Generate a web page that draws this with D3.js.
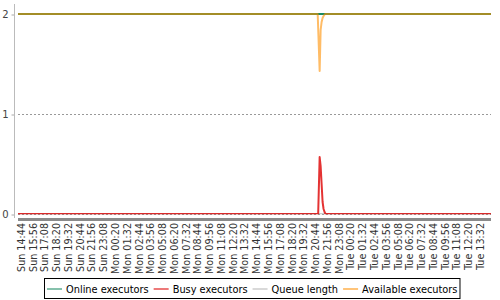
<!DOCTYPE html>
<html>
<head>
<meta charset="utf-8">
<script src="https://cdn.jsdelivr.net/npm/d3@7"></script>
<style>
  body { margin: 0; background: #fff; }
  svg { display: block; font-family: "DejaVu Sans", sans-serif; }
</style>
</head>
<body>
<div id="wrapper"></div>
<script>
// time axis: minutes after Sun 14:44
const tickLabels = [
  "Sun 14:44", "Sun 15:56", "Sun 17:08", "Sun 18:20", "Sun 19:32", "Sun 20:44", "Sun 21:56", "Sun 23:08",
  "Mon 00:20", "Mon 01:32", "Mon 02:44", "Mon 03:56", "Mon 05:08", "Mon 06:20", "Mon 07:32", "Mon 08:44",
  "Mon 09:56", "Mon 11:08", "Mon 12:20", "Mon 13:32", "Mon 14:44", "Mon 15:56", "Mon 17:08", "Mon 18:20",
  "Mon 19:32", "Mon 20:44", "Mon 21:56", "Mon 23:08",
  "Tue 00:20", "Tue 01:32", "Tue 02:44", "Tue 03:56", "Tue 05:08", "Tue 06:20", "Tue 07:32", "Tue 08:44",
  "Tue 09:56", "Tue 11:08", "Tue 12:20", "Tue 13:32"
];
const tickMinutes = tickLabels.map((d, i) => i * 72);

const seriesNames = ["Online executors", "Busy executors", "Queue length", "Available executors"];

// [minute, value]
const onlineExecutors = [[-18, 2], [2875, 2]];
const busyExecutors = [[-18, 0], [1818, 0], [1827, 0.57], [1833, 0.48], [1839, 0.3], [1845, 0.12],
  [1851, 0.05], [1857, 0.02], [1863, 0], [2875, 0]];
const queueLength = [[-18, 0], [2875, 0]];
const availableExecutors = [[-18, 2], [1815, 2], [1827, 1.43], [1833, 1.84], [1839, 1.92], [1845, 1.96],
  [1851, 1.98], [1860, 2], [2875, 2]];

const colors = ["#1a8a62", "#dd0000", "#b8b8b8", "#ff9000"];
const opacities = [1, 0.8, 0.7, 0.6];
// drawing order: queue under busy
const drawOrder = [0, 2, 1, 3];

const dimensions = {
  width: 500,
  height: 300,
  plotLeft: 18,
  plotRight: 491,
  plotTop: 14,
  plotBottom: 214
};

const svg = d3.select("#wrapper")
  .append("svg")
    .attr("width", dimensions.width)
    .attr("height", dimensions.height);

const xScale = d3.scaleLinear()
  .domain([-18, 2875])
  .range([dimensions.plotLeft, dimensions.plotRight]);

const yScale = d3.scaleLinear()
  .domain([0, 2])
  .range([dimensions.plotBottom, dimensions.plotTop]);

svg.append("clipPath").attr("id", "plotClip")
  .append("rect")
    .attr("x", dimensions.plotLeft)
    .attr("y", 0)
    .attr("width", dimensions.plotRight - dimensions.plotLeft)
    .attr("height", dimensions.plotBottom + 0.3);

// gridlines
svg.append("g")
  .selectAll("line")
  .data([0, 1, 2])
  .join("line")
    .attr("x1", dimensions.plotLeft)
    .attr("x2", dimensions.plotRight)
    .attr("y1", d => yScale(d) + 0.5)
    .attr("y2", d => yScale(d) + 0.5)
    .attr("stroke", "#999")
    .attr("stroke-width", 1)
    .attr("stroke-dasharray", "2,2");

// y axis
const yAxis = svg.append("g")
  .attr("transform", "translate(14.5,0.5)")
  .call(d3.axisLeft(yScale).tickValues([0, 1, 2]).tickFormat(d3.format("d")).tickSize(3).tickPadding(3));
yAxis.select(".domain").remove();
yAxis.selectAll(".tick line").attr("stroke", "#aaa");
yAxis.selectAll(".tick text")
  .attr("fill", "#444")
  .style("font-size", "10px")
  .style("font-family", "DejaVu Sans");

svg.append("line")
  .attr("x1", 14.5).attr("x2", 14.5)
  .attr("y1", 4).attr("y2", 218)
  .attr("stroke", "#bbb")
  .attr("stroke-width", 1);

// series lines
const lineGenerator = d3.line()
  .x(d => xScale(d[0]))
  .y(d => yScale(d[1]));

const allSeries = [onlineExecutors, busyExecutors, queueLength, availableExecutors];
const linesGroup = svg.append("g").attr("clip-path", "url(#plotClip)");
drawOrder.forEach(i => {
  linesGroup.append("path")
    .datum(allSeries[i])
    .attr("d", lineGenerator)
    .attr("fill", "none")
    .attr("stroke", colors[i])
    .attr("stroke-opacity", opacities[i])
    .attr("stroke-width", 2)
    .attr("stroke-linejoin", "round");
});

// x axis
svg.append("rect")
  .attr("x", dimensions.plotLeft)
  .attr("y", 218)
  .attr("width", dimensions.plotRight - dimensions.plotLeft)
  .attr("height", 3)
  .attr("fill", "#8a8a8a");

const xAxis = svg.append("g")
  .attr("transform", "translate(0,223)")
  .call(d3.axisBottom(xScale).tickValues(tickMinutes).tickFormat((d, i) => tickLabels[i]).tickSize(0));
xAxis.select(".domain").remove();
xAxis.selectAll(".tick text")
  .attr("transform", "rotate(-90)")
  .attr("x", 0)
  .attr("y", 0)
  .attr("dy", "0.35em")
  .attr("text-anchor", "end")
  .attr("fill", "#333")
  .style("font-size", "9.6px")
  .style("font-family", "DejaVu Sans");

// legend
const legend = svg.append("g");
const legendBox = legend.append("rect")
  .attr("fill", "#fff")
  .attr("stroke", "#000")
  .attr("stroke-width", 1);

let lx = 47;
seriesNames.forEach((name, i) => {
  legend.append("line")
    .attr("x1", lx).attr("x2", lx + 15)
    .attr("y1", 289).attr("y2", 289)
    .attr("stroke", colors[i])
    .attr("stroke-opacity", 0.7)
    .attr("stroke-width", 1.5);
  const t = legend.append("text")
    .attr("x", lx + 19)
    .attr("y", 292.5)
    .attr("fill", "#000")
    .style("font-size", "9.8px")
    .style("font-family", "DejaVu Sans")
    .text(name);
  lx = lx + 19 + t.node().getComputedTextLength() + 5;
});

legendBox
  .attr("x", 44.5)
  .attr("y", 278.5)
  .attr("width", lx - 5 + 2 - 44)
  .attr("height", 20);
</script>
</body>
</html>
